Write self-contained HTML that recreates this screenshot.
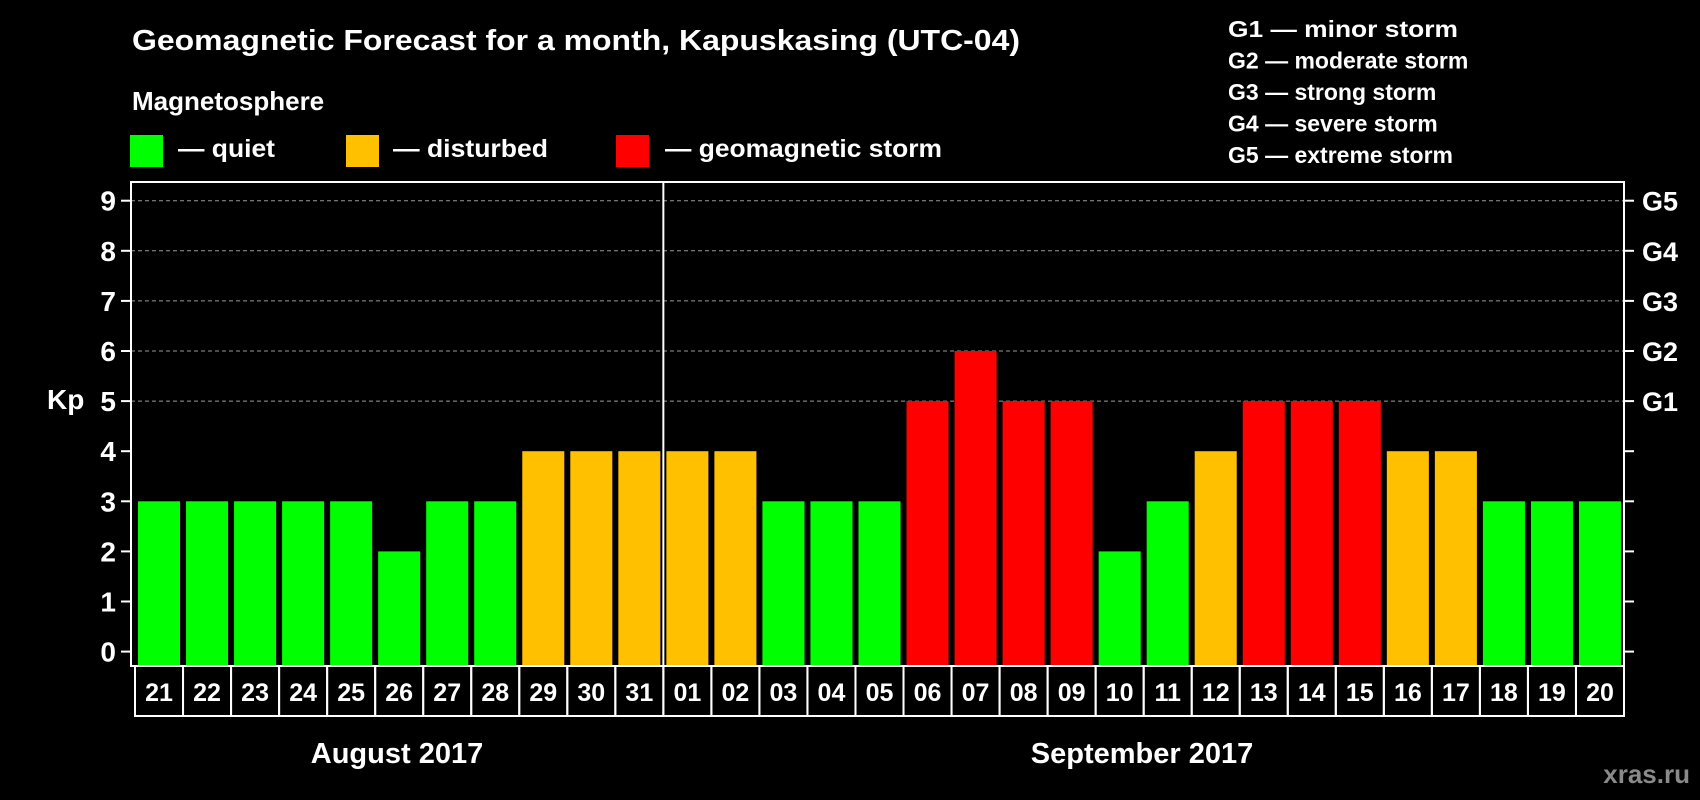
<!DOCTYPE html>
<html><head><meta charset="utf-8"><style>
html,body{margin:0;padding:0;background:#000;}
svg{display:block;font-family:"Liberation Sans",Arial,sans-serif;font-weight:bold;}
</style></head><body>
<svg id="chart" width="1700" height="800" viewBox="0 0 1700 800">
<rect x="0" y="0" width="1700" height="800" fill="#000"/>
<text x="132" y="50" font-size="29" fill="#fff" textLength="888" lengthAdjust="spacingAndGlyphs">Geomagnetic Forecast for a month, Kapuskasing (UTC-04)</text>
<text x="132" y="110" font-size="26" fill="#fff">Magnetosphere</text>
<g>
<rect x="130" y="135" width="33" height="32" fill="#00ff00"/>
<text x="178" y="157" font-size="25" fill="#fff" textLength="97" lengthAdjust="spacingAndGlyphs">— quiet</text></g>
<g>
<rect x="346" y="135" width="33" height="32" fill="#ffc000"/>
<text x="393" y="157" font-size="25" fill="#fff" textLength="155" lengthAdjust="spacingAndGlyphs">— disturbed</text></g>
<g>
<rect x="616" y="135" width="33" height="32" fill="#ff0000"/>
<text x="665" y="157" font-size="25" fill="#fff" textLength="277" lengthAdjust="spacingAndGlyphs">— geomagnetic storm</text></g>
<g font-size="23" fill="#fff">
<text x="1228" y="37" textLength="230" lengthAdjust="spacingAndGlyphs">G1 — minor storm</text>
<text x="1228" y="68.5">G2 — moderate storm</text>
<text x="1228" y="100">G3 — strong storm</text>
<text x="1228" y="131.5">G4 — severe storm</text>
<text x="1228" y="163">G5 — extreme storm</text>
</g>
<text x="47" y="409" font-size="28" fill="#fff">Kp</text>
<g id="grid"></g><g id="bars"></g><g id="axes"></g>
<text x="397" y="763" font-size="29" fill="#fff" text-anchor="middle">August 2017</text>
<text x="1142" y="763" font-size="29" fill="#fff" text-anchor="middle">September 2017</text>
<text x="1690" y="783" font-size="26" fill="#8a8a8a" text-anchor="end">xras.ru</text>
</svg>
<script>
const days = ["21","22","23","24","25","26","27","28","29","30","31","01","02","03","04","05","06","07","08","09","10","11","12","13","14","15","16","17","18","19","20"];
const kpValues = [3,3,3,3,3,2,3,3,4,4,4,4,4,3,3,3,5,6,5,5,2,3,4,5,5,5,4,4,3,3,3];
const yTicks = [0,1,2,3,4,5,6,7,8,9];
const gLabels = ["G1","G2","G3","G4","G5"];
const gLevels = [5,6,7,8,9];
const monthBreakIndex = 11;

const NS = "http://www.w3.org/2000/svg";
const L = 131, R = 1624, T = 182, B = 666;
const y0 = 651.6, unit = 50.1;
const step = (R - L - 4) / days.length;
function yScale(v){ return y0 - unit * v; }
function xScale(i){ return L + 7 + i * step; }
function color(v){ return v >= 5 ? "#ff0000" : (v >= 4 ? "#ffc000" : "#00ff00"); }
function mk(tag, attrs, parent){ const e = document.createElementNS(NS, tag); for (const k in attrs) e.setAttribute(k, attrs[k]); parent.appendChild(e); return e; }

const grid = document.getElementById("grid");
const bars = document.getElementById("bars");
const axes = document.getElementById("axes");

gLevels.forEach(function(v, i){
  const ln = mk("line", {x1: L, x2: R, y1: yScale(v), y2: yScale(v), stroke: "#999", "stroke-width": 1, "stroke-dasharray": "4,3"}, grid);
  
  
  const t = mk("text", {x: 1642, y: yScale(v) + 10, "font-size": 27, fill: "#fff"}, axes);
  t.textContent = gLabels[i];
  
  
});

kpValues.forEach(function(v, i){
  const x = xScale(i);
  const b = mk("rect", {x: x, y: yScale(v), width: step - 6, height: B - yScale(v), fill: color(v)}, bars);
  
  
  const bx = x - 3;
  const box = mk("rect", {x: bx, y: B, width: step, height: 50, fill: "none", stroke: "#fff", "stroke-width": 2}, axes);
  
  
  const t = mk("text", {x: bx + step / 2, y: B + 35, "font-size": 25, fill: "#fff", "text-anchor": "middle"}, axes);
  t.textContent = days[i];
  
  
});

const frame = mk("rect", {x: L, y: T, width: R - L, height: B - T, fill: "none", stroke: "#fff", "stroke-width": 2}, axes);



const divX = xScale(monthBreakIndex) - 3;
const div = mk("line", {x1: divX, x2: divX, y1: T, y2: B, stroke: "#fff", "stroke-width": 2}, axes);



yTicks.forEach(function(v){
  const y = yScale(v);
  const tl = mk("line", {x1: L - 10, x2: L, y1: y, y2: y, stroke: "#fff", "stroke-width": 2}, axes);
  
  
  const tr = mk("line", {x1: R, x2: R + 10, y1: y, y2: y, stroke: "#fff", "stroke-width": 2}, axes);
  
  
  const t = mk("text", {x: 116, y: y + 10, "font-size": 28, fill: "#fff", "text-anchor": "end"}, axes);
  t.textContent = v;
  
  
});
</script>
</body></html>
